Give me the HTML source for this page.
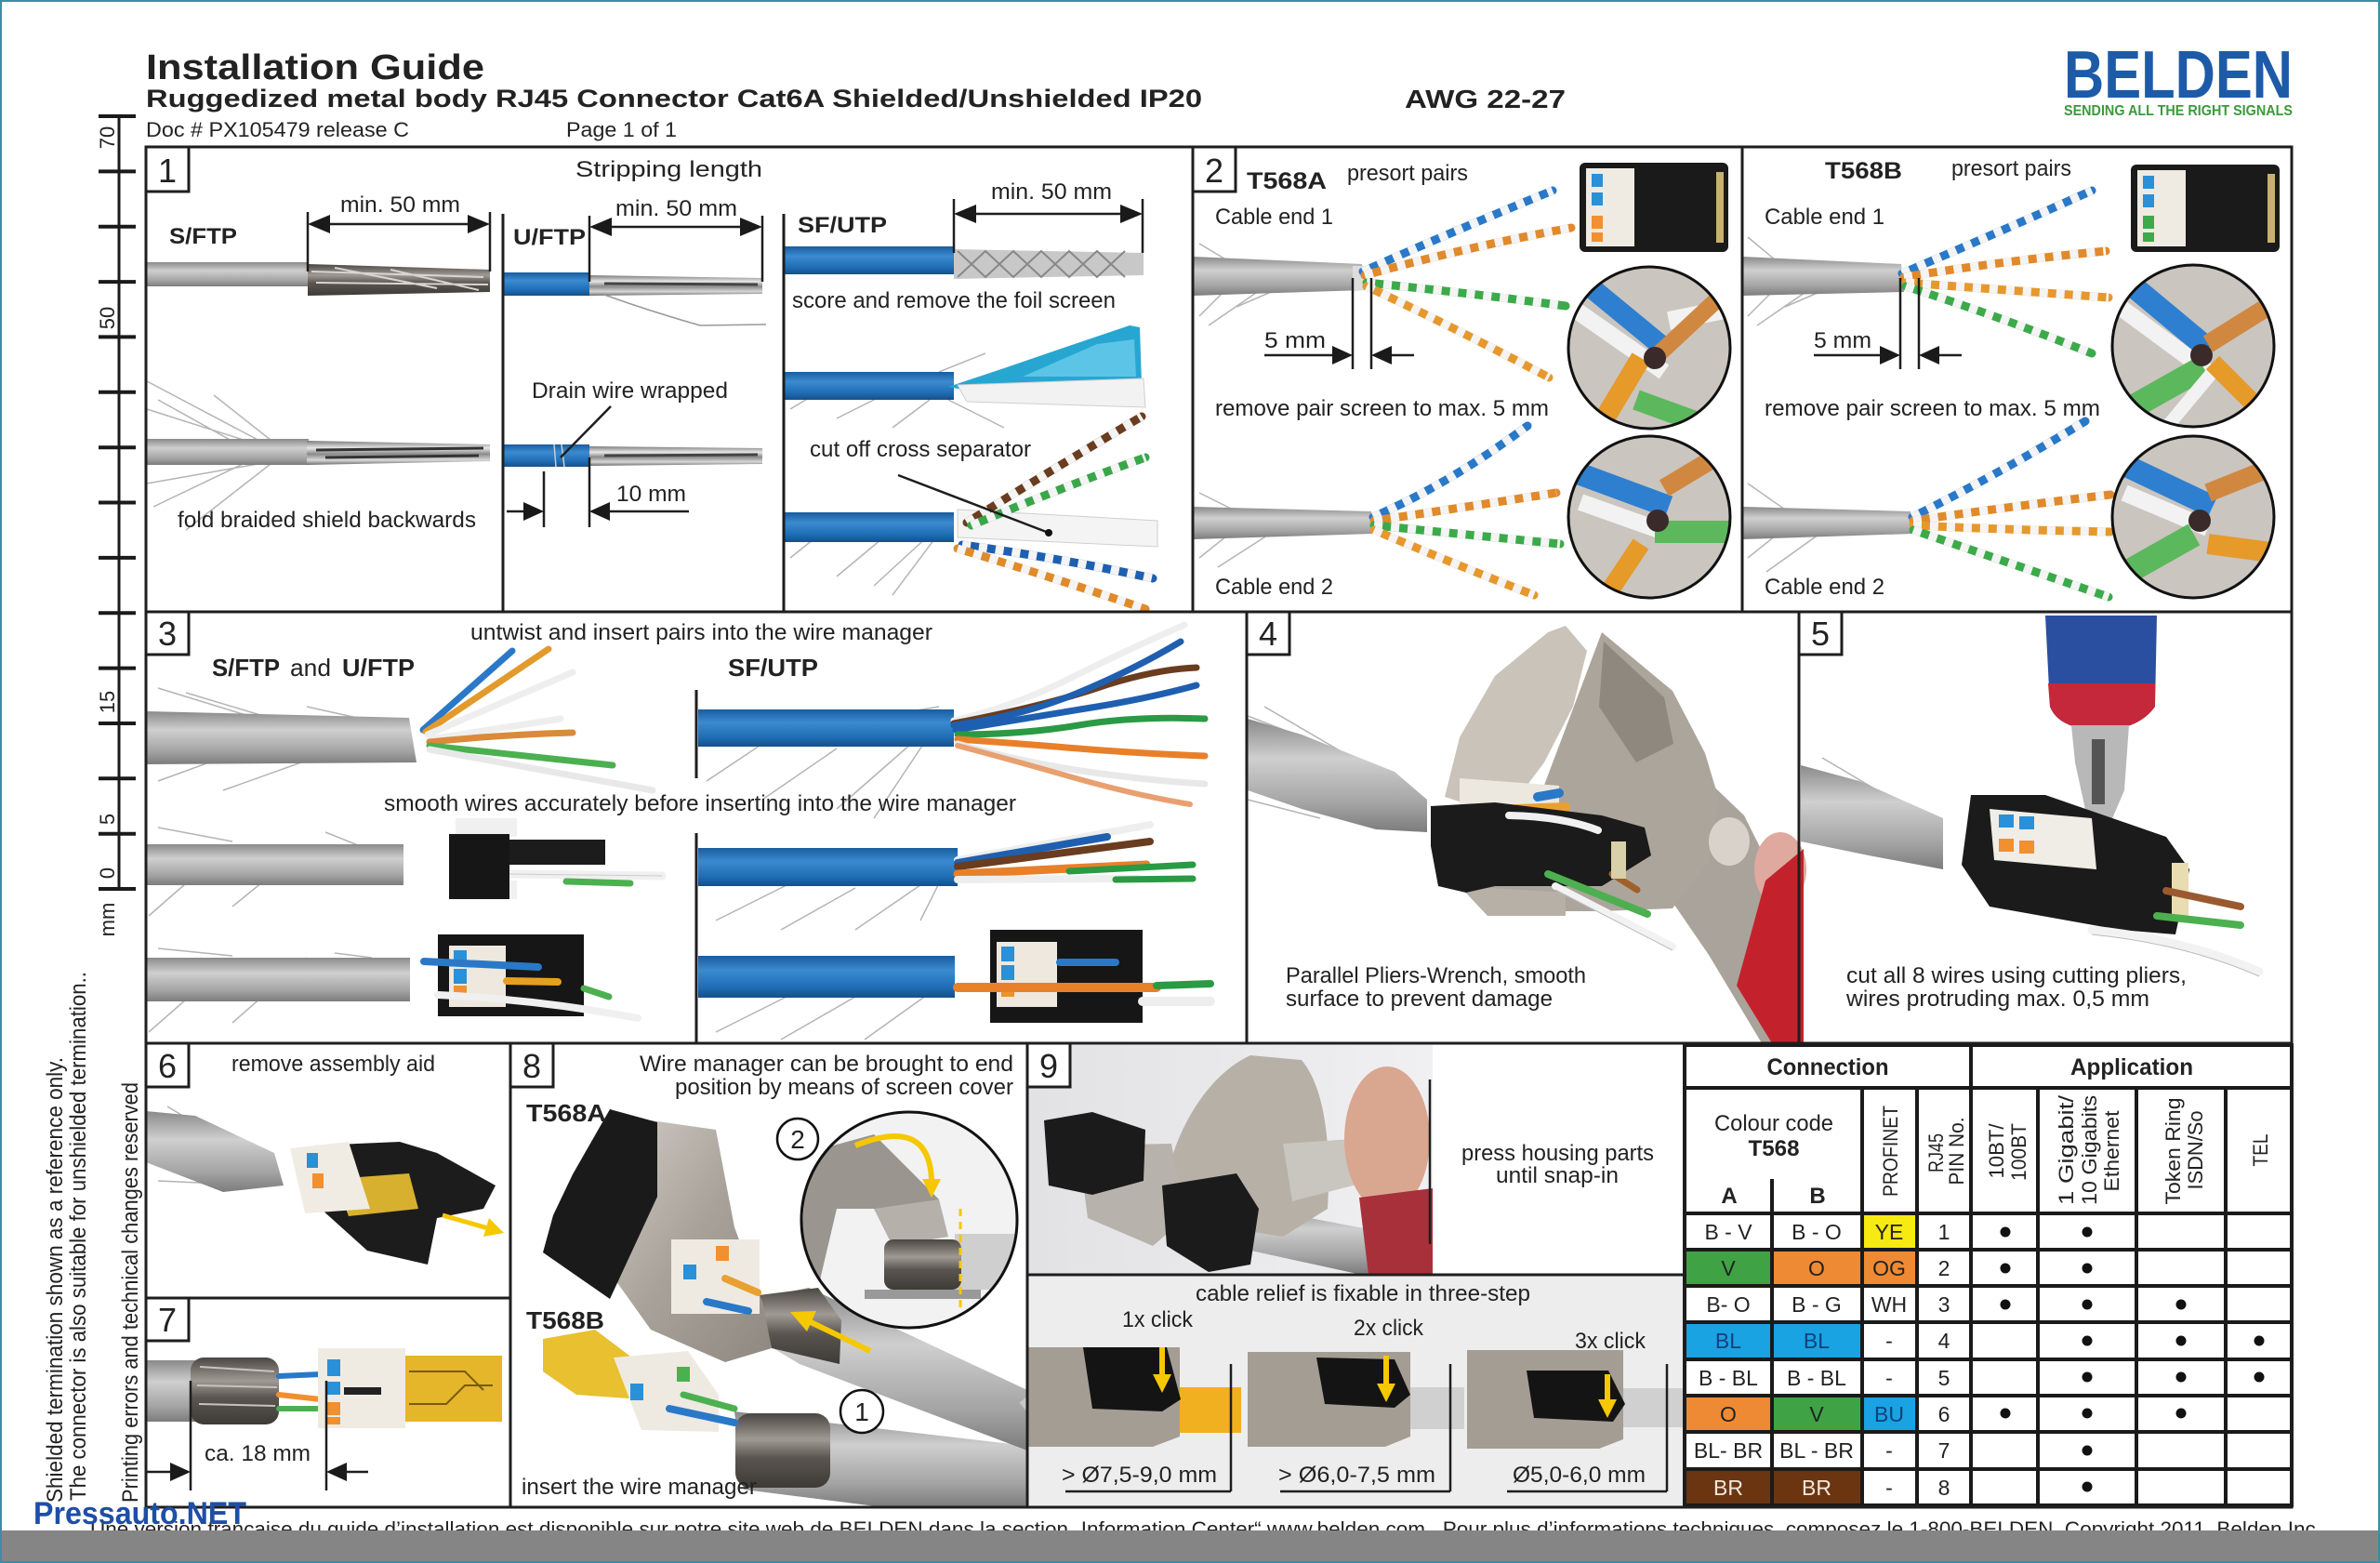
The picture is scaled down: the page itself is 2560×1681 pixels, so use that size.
<!DOCTYPE html>
<html><head><meta charset="utf-8"><style>
html,body{margin:0;padding:0;background:#fff}
svg{display:block}
text{font-family:"Liberation Sans",Arial,sans-serif;fill:#222;font-size:24px}
.b{font-weight:bold}
.w{fill:none;stroke-linecap:round}
.tw{fill:none;stroke:#f4f4f4;stroke-dasharray:9 9;stroke-linecap:butt}
.f{fill:none;stroke:#b4b4b4;stroke-width:1.5}
.ln{stroke:#1e1e1e;stroke-width:3}
.t2{stroke:#1e1e1e;stroke-width:2.5}
.nb{fill:#fff;stroke:#1e1e1e;stroke-width:3}
.num{font-size:36px;text-anchor:middle}
.c{text-anchor:middle}
.tg{stroke:#1a1a1a;stroke-width:4}
</style></head><body>
<svg width="2560" height="1681" viewBox="0 0 2560 1681" xmlns="http://www.w3.org/2000/svg">
<defs>
<linearGradient id="gc" x1="0" y1="0" x2="0" y2="1"><stop offset="0" stop-color="#8a8a8a"/><stop offset=".35" stop-color="#cfcfcf"/><stop offset=".75" stop-color="#a4a4a4"/><stop offset="1" stop-color="#7c7c7c"/></linearGradient>
<linearGradient id="bc" x1="0" y1="0" x2="0" y2="1"><stop offset="0" stop-color="#1a5c9e"/><stop offset=".35" stop-color="#3b8bd0"/><stop offset=".75" stop-color="#1f6db5"/><stop offset="1" stop-color="#174f8a"/></linearGradient>
<linearGradient id="sv" x1="0" y1="0" x2="0" y2="1"><stop offset="0" stop-color="#7c7c7c"/><stop offset=".3" stop-color="#e6e6e6"/><stop offset=".55" stop-color="#8a8a8a"/><stop offset=".8" stop-color="#d8d8d8"/><stop offset="1" stop-color="#6e6e6e"/></linearGradient>
<linearGradient id="br" x1="0" y1="0" x2="0" y2="1"><stop offset="0" stop-color="#4a4642"/><stop offset=".35" stop-color="#a09a94"/><stop offset=".6" stop-color="#5a5550"/><stop offset="1" stop-color="#3e3a36"/></linearGradient>
<linearGradient id="mt" x1="0" y1="0" x2="1" y2="1"><stop offset="0" stop-color="#d2cdc6"/><stop offset=".5" stop-color="#a8a29a"/><stop offset="1" stop-color="#8e8880"/></linearGradient>
<linearGradient id="bg9" x1="0" y1="0" x2="1" y2="0"><stop offset="0" stop-color="#e2e2e4"/><stop offset="1" stop-color="#f0f0f2"/></linearGradient>
<clipPath id="k1"><circle cx="1774" cy="374" r="87"/></clipPath>
<clipPath id="k2"><circle cx="1774" cy="556" r="87"/></clipPath>
<clipPath id="k3"><circle cx="2359" cy="372" r="87"/></clipPath>
<clipPath id="k4"><circle cx="2359" cy="556" r="87"/></clipPath>
<clipPath id="k8"><circle cx="978" cy="1312" r="116"/></clipPath>
</defs>
<rect width="2560" height="1681" fill="#fff"/>

<!-- ===== Header ===== -->
<text x="157" y="85" class="b" font-size="38" textLength="364" lengthAdjust="spacingAndGlyphs" style="font-size:38px">Installation Guide</text>
<text x="157" y="115" class="b" style="font-size:27px" textLength="1136" lengthAdjust="spacingAndGlyphs">Ruggedized metal body RJ45 Connector Cat6A Shielded/Unshielded IP20</text>
<text x="1511" y="116" class="b" style="font-size:28px" textLength="173" lengthAdjust="spacingAndGlyphs">AWG 22-27</text>
<text x="157" y="147" style="font-size:22px" textLength="283" lengthAdjust="spacingAndGlyphs">Doc # PX105479 release C</text>
<text x="609" y="147" style="font-size:22px" textLength="119" lengthAdjust="spacingAndGlyphs">Page 1 of 1</text>
<text x="2220" y="105" class="b" style="font-size:72px;fill:#1d5ba8" textLength="246" lengthAdjust="spacingAndGlyphs">BELDEN</text>
<text x="2220" y="124" class="b" style="font-size:16px;fill:#3a9a3a" textLength="246" lengthAdjust="spacingAndGlyphs">SENDING ALL THE RIGHT SIGNALS</text>

<!-- ===== Ruler ===== -->
<g class="tg">
<line x1="128" y1="124" x2="128" y2="957" stroke-width="3"/>
<line x1="106" y1="125" x2="146" y2="125"/><line x1="106" y1="184.4" x2="146" y2="184.4"/><line x1="106" y1="243.7" x2="146" y2="243.7"/><line x1="106" y1="303.1" x2="146" y2="303.1"/><line x1="106" y1="362.4" x2="146" y2="362.4"/><line x1="106" y1="421.8" x2="146" y2="421.8"/><line x1="106" y1="481.2" x2="146" y2="481.2"/><line x1="106" y1="540.5" x2="146" y2="540.5"/><line x1="106" y1="599.9" x2="146" y2="599.9"/><line x1="106" y1="659.2" x2="146" y2="659.2"/><line x1="106" y1="718.6" x2="146" y2="718.6"/><line x1="106" y1="778" x2="146" y2="778"/><line x1="106" y1="837.3" x2="146" y2="837.3"/><line x1="106" y1="896.7" x2="146" y2="896.7"/><line x1="106" y1="956" x2="146" y2="956"/>
</g>
<g style="font-size:22px">
<text transform="translate(123,148) rotate(-90)" class="c" style="font-size:22px">70</text>
<text transform="translate(123,342) rotate(-90)" class="c" style="font-size:22px">50</text>
<text transform="translate(123,755) rotate(-90)" class="c" style="font-size:22px">15</text>
<text transform="translate(123,881) rotate(-90)" class="c" style="font-size:22px">5</text>
<text transform="translate(123,939) rotate(-90)" class="c" style="font-size:22px">0</text>
<text transform="translate(123,989) rotate(-90)" class="c" style="font-size:22px">mm</text>
</g>

<!-- left vertical notes -->
<text transform="translate(67,1616) rotate(-90)" style="font-size:24px" textLength="479" lengthAdjust="spacingAndGlyphs">Shielded termination shown as a reference only.</text>
<text transform="translate(92,1614) rotate(-90)" style="font-size:24px" textLength="569" lengthAdjust="spacingAndGlyphs">The connector is also suitable for  unshielded termination..</text>
<text transform="translate(148,1616) rotate(-90)" style="font-size:24px" textLength="452" lengthAdjust="spacingAndGlyphs">Printing errors and technical changes reserved</text>

<!-- ===== Panel 1 photos ===== -->
<!-- S/FTP cable 1 -->
<rect x="158" y="282" width="174" height="26" fill="url(#gc)"/>
<polygon points="331,284 527,290 527,314 331,318" fill="url(#br)"/>
<path d="M335,292 L520,298 M340,304 L525,306 M360,288 L470,310 M420,290 L515,312" stroke="#d8d4d0" stroke-width="2" fill="none"/>
<!-- S/FTP cable 2 -->
<path class="f" d="M300,485 L158,410 M290,482 L158,440 M280,490 L165,545 M300,492 L200,570 M260,480 L170,430 M310,488 L230,425 M300,495 L158,520"/>
<rect x="158" y="472" width="174" height="28" fill="url(#gc)"/>
<polygon points="330,474 527,478 527,496 330,500" fill="url(#sv)"/>
<path d="M340,484 L520,482 M350,492 L515,490" stroke="#333" stroke-width="3" fill="none"/>
<!-- U/FTP -->
<rect x="541" y="293" width="93" height="25" fill="url(#bc)"/>
<polygon points="634,296 820,299 820,316 634,318" fill="url(#sv)"/>
<path d="M650,305 L815,306" stroke="#444" stroke-width="3" fill="none"/>
<path d="M650,317 Q700,335 753,350 L824,349" stroke="#999" stroke-width="1.5" fill="none"/>
<rect x="541" y="478" width="93" height="24" fill="url(#bc)"/>
<polygon points="634,480 820,482 820,499 634,501" fill="url(#sv)"/>
<path d="M650,490 L815,489" stroke="#444" stroke-width="3" fill="none"/>
<path d="M596,478 L598,502 M604,478 L607,502" stroke="#ccc" stroke-width="1.5"/>
<line x1="657" y1="437" x2="603" y2="492" class="t2"/>
<!-- SF/UTP -->
<rect x="843" y="265" width="183" height="30" fill="url(#bc)"/>
<polygon points="1026,268 1230,272 1230,296 1026,300" fill="#c8c8c8"/>
<path d="M1030,270 L1060,298 L1090,270 L1120,298 L1150,270 L1180,298 L1210,270 M1030,298 L1060,270 L1090,298 L1120,270 L1150,298 L1180,270 L1210,298" stroke="#888" stroke-width="2" fill="none"/>
<path class="f" d="M900,410 L850,440 M960,420 L900,450 M1000,430 L960,460 M1010,400 L1060,380 M1020,430 L1080,460"/>
<rect x="843" y="400" width="183" height="30" fill="url(#bc)"/>
<polygon points="1020,416 1080,396 1150,372 1215,350 1226,352 1228,412 1140,418 1060,424" fill="#27a6d2"/>
<polygon points="1100,405 1180,370 1220,365 1222,405" fill="#5cc4e6"/>
<polygon points="1030,414 1230,407 1232,438 1040,432" fill="#f2f2f2" stroke="#cfcfcf"/>
<path class="f" d="M900,560 L850,600 M960,570 L900,620 M1000,575 L940,630 M1020,560 L960,640"/>
<rect x="843" y="551" width="183" height="32" fill="url(#bc)"/>
<polygon points="1030,548 1245,560 1245,588 1030,578" fill="#f4f4f4" stroke="#cfcfcf"/>
<path class="w" d="M1040,562 Q1140,500 1228,448" stroke="#6a3c20" stroke-width="9"/><path class="tw" d="M1040,562 Q1140,500 1228,448" stroke-width="9"/>
<path class="w" d="M1045,565 Q1140,525 1232,492" stroke="#3aa64a" stroke-width="9"/><path class="tw" d="M1045,565 Q1140,525 1232,492" stroke-width="9"/>
<path class="w" d="M1035,586 Q1140,600 1240,622" stroke="#1f5fb0" stroke-width="9"/><path class="tw" d="M1035,586 Q1140,600 1240,622" stroke-width="9"/>
<path class="w" d="M1030,590 Q1130,620 1232,655" stroke="#e08a2a" stroke-width="9"/><path class="tw" d="M1030,590 Q1130,620 1232,655" stroke-width="9"/>
<line x1="966" y1="511" x2="1128" y2="573" class="t2"/><circle cx="1128" cy="573" r="4" fill="#111"/>

<!-- Panel 1 dimensions -->
<g class="t2">
<line x1="331" y1="228" x2="331" y2="292"/><line x1="527" y1="228" x2="527" y2="292"/><line x1="345" y1="241" x2="513" y2="241"/>
<line x1="634" y1="232" x2="634" y2="303"/><line x1="820" y1="232" x2="820" y2="303"/><line x1="648" y1="244" x2="806" y2="244"/>
<line x1="1026" y1="214" x2="1026" y2="272"/><line x1="1229" y1="214" x2="1229" y2="272"/><line x1="1040" y1="230" x2="1215" y2="230"/>
<line x1="585" y1="507" x2="585" y2="567"/><line x1="634" y1="492" x2="634" y2="567"/><line x1="545" y1="550" x2="570" y2="550"/><line x1="648" y1="550" x2="741" y2="550"/>
</g>
<g fill="#1a1a1a">
<polygon points="331,241 355,231 355,251"/><polygon points="527,241 503,231 503,251"/>
<polygon points="634,244 658,234 658,254"/><polygon points="820,244 796,234 796,254"/>
<polygon points="1026,230 1050,220 1050,240"/><polygon points="1229,230 1205,220 1205,240"/>
<polygon points="585,550 563,540 563,560"/><polygon points="634,550 656,540 656,560"/>
</g>

<!-- ===== Panel 2A ===== -->
<path class="f" d="M1340,290 L1290,340 M1380,295 L1300,350 M1320,280 L1290,262 M1400,300 L1330,330"/>
<polygon points="1283,276 1465,284 1468,312 1283,318" fill="url(#gc)"/>
<rect x="1455" y="286" width="12" height="26" fill="#ddd"/>
<path class="w" d="M1466,292 Q1560,250 1670,205" stroke="#2a78c8" stroke-width="9"/><path class="tw" d="M1466,292 Q1560,250 1670,205" stroke-width="9"/>
<path class="w" d="M1468,296 Q1580,265 1690,245" stroke="#e08a2a" stroke-width="9"/><path class="tw" d="M1468,296 Q1580,265 1690,245" stroke-width="9"/>
<path class="w" d="M1470,304 Q1580,315 1684,329" stroke="#3caa4a" stroke-width="9"/><path class="tw" d="M1470,304 Q1580,315 1684,329" stroke-width="9"/>
<path class="w" d="M1470,308 Q1560,350 1666,406" stroke="#e6982e" stroke-width="9"/><path class="tw" d="M1470,308 Q1560,350 1666,406" stroke-width="9"/>
<path class="f" d="M1340,560 L1290,600 M1380,565 L1310,610 M1330,550 L1290,530"/>
<polygon points="1283,545 1475,550 1477,574 1283,580" fill="url(#gc)"/>
<path class="w" d="M1477,556 Q1560,520 1643,458" stroke="#2a78c8" stroke-width="9"/><path class="tw" d="M1477,556 Q1560,520 1643,458" stroke-width="9"/>
<path class="w" d="M1478,560 Q1580,545 1674,530" stroke="#e08a2a" stroke-width="9"/><path class="tw" d="M1478,560 Q1580,545 1674,530" stroke-width="9"/>
<path class="w" d="M1478,565 Q1580,575 1678,585" stroke="#3caa4a" stroke-width="9"/><path class="tw" d="M1478,565 Q1580,575 1678,585" stroke-width="9"/>
<path class="w" d="M1478,570 Q1560,605 1650,640" stroke="#e6982e" stroke-width="9"/><path class="tw" d="M1478,570 Q1560,605 1650,640" stroke-width="9"/>
<!-- connector 2A -->
<rect x="1699" y="175" width="160" height="96" rx="6" fill="#1a1a1a"/>
<rect x="1706" y="181" width="52" height="84" fill="#efeae2"/>
<rect x="1712" y="187" width="12" height="14" fill="#2a90d8"/><rect x="1712" y="207" width="12" height="14" fill="#2a90d8"/>
<rect x="1712" y="232" width="12" height="14" fill="#f09030"/><rect x="1712" y="250" width="12" height="10" fill="#f09030"/>
<rect x="1846" y="185" width="8" height="76" fill="#c8b070"/>
<!-- circles 2A -->
<g clip-path="url(#k1)"><rect x="1680" y="280" width="190" height="190" fill="#cac5bf"/>
<path d="M1700,300 L1785,370" stroke="#2e7fd0" stroke-width="22"/><path d="M1690,330 L1790,400" stroke="#f2f2f2" stroke-width="18"/>
<path d="M1720,460 L1765,385" stroke="#e59a2a" stroke-width="22"/><path d="M1760,430 L1870,470" stroke="#5cb85c" stroke-width="22"/>
<path d="M1795,345 L1870,330" stroke="#f2f2f2" stroke-width="20"/><path d="M1785,380 L1860,310" stroke="#d08840" stroke-width="18"/><circle cx="1780" cy="385" r="12" fill="#3a2a2a"/></g>
<circle cx="1774" cy="374" r="87" fill="none" stroke="#111" stroke-width="3"/>
<g clip-path="url(#k2)"><rect x="1680" y="460" width="190" height="190" fill="#cac5bf"/>
<path d="M1700,510 L1795,545" stroke="#2e7fd0" stroke-width="24"/><path d="M1700,540 L1790,572" stroke="#f2f2f2" stroke-width="18"/>
<path d="M1780,572 L1870,572" stroke="#5cb85c" stroke-width="24"/><path d="M1725,645 L1765,585" stroke="#e59a2a" stroke-width="20"/>
<path d="M1790,525 L1865,480" stroke="#d08840" stroke-width="20"/><circle cx="1783" cy="560" r="12" fill="#3a2a2a"/></g>
<circle cx="1774" cy="556" r="87" fill="none" stroke="#111" stroke-width="3"/>

<!-- ===== Panel 2B ===== -->
<path class="f" d="M1930,290 L1880,340 M1970,295 L1890,350 M1910,280 L1880,255 M1990,300 L1920,330"/>
<polygon points="1874,276 2045,284 2048,314 1874,318" fill="url(#gc)"/>
<path class="w" d="M2046,294 Q2150,250 2250,205" stroke="#2a78c8" stroke-width="9"/><path class="tw" d="M2046,294 Q2150,250 2250,205" stroke-width="9"/>
<path class="w" d="M2048,298 Q2160,280 2265,270" stroke="#e08a2a" stroke-width="9"/><path class="tw" d="M2048,298 Q2160,280 2265,270" stroke-width="9"/>
<path class="w" d="M2050,304 Q2160,312 2268,320" stroke="#e6982e" stroke-width="9"/><path class="tw" d="M2050,304 Q2160,312 2268,320" stroke-width="9"/>
<path class="w" d="M2050,308 Q2150,340 2250,380" stroke="#3caa4a" stroke-width="9"/><path class="tw" d="M2050,308 Q2150,340 2250,380" stroke-width="9"/>
<path class="f" d="M1930,560 L1880,600 M1970,565 L1900,615 M1920,548 L1880,520"/>
<polygon points="1874,545 2055,550 2057,574 1874,580" fill="url(#gc)"/>
<path class="w" d="M2057,556 Q2150,510 2243,453" stroke="#2a78c8" stroke-width="9"/><path class="tw" d="M2057,556 Q2150,510 2243,453" stroke-width="9"/>
<path class="w" d="M2058,560 Q2160,545 2270,532" stroke="#e08a2a" stroke-width="9"/><path class="tw" d="M2058,560 Q2160,545 2270,532" stroke-width="9"/>
<path class="w" d="M2058,565 Q2160,570 2270,572" stroke="#e6982e" stroke-width="9"/><path class="tw" d="M2058,565 Q2160,570 2270,572" stroke-width="9"/>
<path class="w" d="M2058,570 Q2160,605 2268,642" stroke="#3caa4a" stroke-width="9"/><path class="tw" d="M2058,570 Q2160,605 2268,642" stroke-width="9"/>
<rect x="2292" y="177" width="160" height="94" rx="6" fill="#1a1a1a"/>
<rect x="2299" y="183" width="52" height="82" fill="#efeae2"/>
<rect x="2305" y="189" width="12" height="14" fill="#2a90d8"/><rect x="2305" y="209" width="12" height="14" fill="#2a90d8"/>
<rect x="2305" y="232" width="12" height="14" fill="#3caa4a"/><rect x="2305" y="250" width="12" height="10" fill="#3caa4a"/>
<rect x="2439" y="187" width="8" height="74" fill="#c8b070"/>
<g clip-path="url(#k3)"><rect x="2265" y="280" width="190" height="190" fill="#cac5bf"/>
<path d="M2285,300 L2375,375" stroke="#2e7fd0" stroke-width="24"/><path d="M2280,330 L2375,400" stroke="#f2f2f2" stroke-width="18"/>
<path d="M2290,440 L2370,395" stroke="#5cb85c" stroke-width="26"/><path d="M2330,460 L2380,400" stroke="#f2f2f2" stroke-width="14"/>
<path d="M2375,370 L2455,320" stroke="#d08840" stroke-width="20"/><path d="M2380,390 L2440,450" stroke="#e59a2a" stroke-width="20"/><circle cx="2368" cy="382" r="12" fill="#3a2a2a"/></g>
<circle cx="2359" cy="372" r="87" fill="none" stroke="#111" stroke-width="3"/>
<g clip-path="url(#k4)"><rect x="2265" y="460" width="190" height="190" fill="#cac5bf"/>
<path d="M2285,500 L2380,545" stroke="#2e7fd0" stroke-width="24"/><path d="M2285,530 L2375,568" stroke="#f2f2f2" stroke-width="18"/>
<path d="M2280,620 L2360,575" stroke="#5cb85c" stroke-width="26"/><path d="M2375,585 L2450,595" stroke="#e59a2a" stroke-width="22"/>
<path d="M2375,530 L2450,500" stroke="#d08840" stroke-width="20"/><circle cx="2366" cy="560" r="12" fill="#3a2a2a"/></g>
<circle cx="2359" cy="556" r="87" fill="none" stroke="#111" stroke-width="3"/>

<!-- Panel 2 dims -->
<g class="t2">
<line x1="1455" y1="299" x2="1455" y2="397"/><line x1="1475" y1="299" x2="1475" y2="397"/><line x1="1360" y1="382" x2="1440" y2="382"/><line x1="1490" y1="382" x2="1521" y2="382"/>
<line x1="2044" y1="299" x2="2044" y2="397"/><line x1="2064" y1="299" x2="2064" y2="397"/><line x1="1951" y1="382" x2="2030" y2="382"/><line x1="2078" y1="382" x2="2110" y2="382"/>
</g>
<g fill="#1a1a1a">
<polygon points="1455,382 1433,372 1433,392"/><polygon points="1475,382 1497,372 1497,392"/>
<polygon points="2044,382 2022,372 2022,392"/><polygon points="2064,382 2086,372 2086,392"/>
</g>

<!-- ===== Panel 3 ===== -->
<!-- top left -->
<path class="f" d="M300,780 L170,740 M350,790 L200,745 M280,800 L170,840 M380,800 L240,850 M420,780 L330,760"/>
<polygon points="158,765 440,772 448,820 158,822" fill="url(#gc)"/>
<path class="w" d="M455,785 L551,700" stroke="#2a78c8" stroke-width="7"/>
<path class="w" d="M458,787 L590,698" stroke="#e39a2c" stroke-width="7"/>
<path class="w" d="M460,790 L616,723" stroke="#eeeeee" stroke-width="7"/>
<path class="w" d="M462,795 L603,773" stroke="#eeeeee" stroke-width="7"/>
<path class="w" d="M462,798 Q540,790 616,788" stroke="#d98a3a" stroke-width="7"/>
<path class="w" d="M462,802 L659,823" stroke="#4cb050" stroke-width="7"/>
<path class="w" d="M462,806 L702,850" stroke="#e8e8e8" stroke-width="7"/>
<!-- middle left -->
<path class="f" d="M250,905 L170,890 M330,910 L250,975 M200,950 L160,985 M400,915 L350,895"/>
<rect x="158" y="908" width="276" height="44" fill="url(#gc)"/>
<rect x="490" y="880" width="66" height="20" fill="#f0f0f0"/>
<rect x="490" y="947" width="66" height="20" fill="#f0f0f0"/>
<path class="w" d="M548,940 L712,942" stroke="#f0f0f0" stroke-width="9"/><path d="M548,940 L712,942" stroke="#ccc" stroke-width="1" fill="none"/>
<path class="w" d="M609,948 L678,950" stroke="#4cb050" stroke-width="7"/>
<rect x="483" y="897" width="65" height="70" fill="#161616"/>
<rect x="548" y="903" width="103" height="27" fill="#1c1c1c"/>
<!-- bottom left -->
<path class="f" d="M250,1028 L170,1020 M330,1030 L250,1100 M200,1075 L160,1110 M400,1030 L360,1025"/>
<rect x="158" y="1030" width="283" height="47" fill="url(#gc)"/>
<rect x="471" y="1005" width="157" height="88" fill="#161616"/>
<rect x="483" y="1017" width="61" height="66" fill="#eee8df"/>
<rect x="488" y="1022" width="14" height="16" fill="#2a90d8"/><rect x="488" y="1042" width="14" height="16" fill="#2a90d8"/>
<rect x="488" y="1060" width="14" height="14" fill="#f09030"/>
<path class="w" d="M456,1034 L579,1040" stroke="#2a78c8" stroke-width="8"/>
<path class="w" d="M545,1055 L600,1056" stroke="#e6a020" stroke-width="8"/>
<path class="w" d="M471,1070 Q580,1075 686,1095" stroke="#f0f0f0" stroke-width="8"/>
<path class="w" d="M628,1063 L655,1072" stroke="#4cb050" stroke-width="7"/>
<!-- top right -->
<path class="f" d="M820,800 L760,840 M900,805 L820,860 M980,800 L900,870 M1000,790 L940,880 M950,770 L1010,760"/>
<rect x="751" y="763" width="275" height="40" fill="url(#bc)"/>
<path class="w" d="M1026,775 Q1090,760 1150,730 T1274,672" stroke="#eeeeee" stroke-width="7"/>
<path class="w" d="M1026,778 Q1120,760 1180,740 T1287,718" stroke="#6a3c20" stroke-width="7"/>
<path class="w" d="M1026,780 Q1100,770 1160,745 T1270,690" stroke="#1f5fb0" stroke-width="7"/>
<path class="w" d="M1028,785 Q1120,770 1180,760 T1287,737" stroke="#1f5fb0" stroke-width="7"/>
<path class="w" d="M1030,790 Q1100,790 1160,780 T1296,773" stroke="#2a9a44" stroke-width="7"/>
<path class="w" d="M1030,795 Q1100,800 1160,805 T1296,813" stroke="#e8802a" stroke-width="7"/>
<path class="w" d="M1030,800 Q1100,820 1170,830 T1296,843" stroke="#e8e8e8" stroke-width="7"/>
<path class="w" d="M1030,802 Q1080,815 1150,835 T1280,865" stroke="#e8a070" stroke-width="6"/>
<!-- middle right -->
<path class="f" d="M850,950 L770,990 M920,955 L840,1000 M1000,945 L920,1000 M1020,930 L990,990"/>
<rect x="751" y="912" width="279" height="41" fill="url(#bc)"/>
<path class="w" d="M1030,925 L1237,887" stroke="#eeeeee" stroke-width="8"/>
<path class="w" d="M1030,928 L1191,900" stroke="#1f5fb0" stroke-width="8"/>
<path class="w" d="M1030,932 L1237,905" stroke="#6a3c20" stroke-width="8"/>
<path class="w" d="M1030,940 Q1130,935 1233,930" stroke="#e8802a" stroke-width="9"/>
<path class="w" d="M1150,937 L1283,930" stroke="#2a9a44" stroke-width="7"/>
<path class="w" d="M1030,946 L1225,945" stroke="#eeeeee" stroke-width="8"/>
<path class="w" d="M1200,946 L1283,945" stroke="#2a9a44" stroke-width="7"/>
<!-- bottom right -->
<path class="f" d="M850,1070 L770,1110 M920,1072 L840,1118 M1000,1068 L930,1118"/>
<rect x="751" y="1028" width="276" height="45" fill="url(#bc)"/>
<rect x="1065" y="1000" width="164" height="100" fill="#161616"/>
<rect x="1072" y="1013" width="65" height="70" fill="#eee8df"/>
<rect x="1077" y="1018" width="14" height="16" fill="#2a90d8"/><rect x="1077" y="1038" width="14" height="16" fill="#2a90d8"/>
<rect x="1077" y="1058" width="14" height="14" fill="#f09030"/>
<path class="w" d="M1030,1062 L1244,1062" stroke="#e8802a" stroke-width="10"/>
<path class="w" d="M1244,1060 L1302,1058" stroke="#2a9a44" stroke-width="8"/>
<path class="w" d="M1229,1077 L1302,1077" stroke="#eeeeee" stroke-width="10"/>
<path class="w" d="M1140,1035 L1200,1035" stroke="#2a78c8" stroke-width="8"/>

<!-- ===== Panel 4 ===== -->
<path class="f" d="M1342,770 L1420,800 M1342,800 L1450,820 M1345,840 L1460,870 M1360,760 L1480,830 M1342,860 L1420,880"/>
<polygon points="1342,773 1400,790 1500,830 1535,860 1535,895 1480,892 1400,870 1342,850" fill="url(#gc)"/>
<polygon points="1780,847 1830,833 1876,877 1914,953 1940,993 1940,1122 1895,1122 1838,1027 1792,960" fill="#a9a39b"/>
<path d="M1723,680 L1799,743 L1834,810 L1849,860 L1838,927 L1799,977 L1723,980 L1646,980 L1589,967 L1570,953 L1640,900 Z" fill="#aca59c"/>
<polygon points="1554,857 1570,793 1608,727 1665,680 1684,673 1707,700 1692,760 1661,820 1631,860 1585,867" fill="#c9c3ba"/>
<polygon points="1725,690 1790,750 1800,800 1760,820 1720,760" fill="#8f887f"/>
<ellipse cx="1860" cy="905" rx="22" ry="26" fill="#d8d2ca"/>
<polygon points="1570,953 1684,960 1684,985 1600,985" fill="#b7b0a7"/>
<ellipse cx="1915" cy="935" rx="28" ry="40" fill="#dfa9a0"/>
<polygon points="1899,947 1940,913 1940,1122 1906,1122 1868,1060" fill="#c3222c"/>
<polygon points="1570,837 1677,845 1677,887 1570,880" fill="#ece8e0"/>
<path class="w" d="M1654,857 L1677,853" stroke="#2a78c8" stroke-width="10"/>
<path class="w" d="M1631,870 L1684,868" stroke="#e8a030" stroke-width="10"/>
<polygon points="1539,867 1608,863 1723,877 1769,890 1776,920 1723,953 1608,953 1577,960 1547,953 1539,910" fill="#1b1b1b"/>
<path class="w" d="M1623,877 Q1680,878 1719,893" stroke="#f0f0f0" stroke-width="8"/>
<path class="w" d="M1665,940 L1772,983" stroke="#4cb050" stroke-width="8"/>
<path class="w" d="M1673,953 L1799,1018" stroke="#f2f2f2" stroke-width="8"/><path d="M1673,957 L1799,1022" stroke="#bbb" stroke-width="1" fill="none"/>
<path class="w" d="M1734,940 L1761,957" stroke="#a0602a" stroke-width="7"/>
<rect x="1733" y="905" width="16" height="40" fill="#d8d0a8"/>

<!-- ===== Panel 5 ===== -->
<path class="f" d="M1937,830 L2000,860 M1937,860 L2040,890 M1945,900 L2050,925 M1960,815 L2070,880"/>
<polygon points="1937,823 2000,840 2090,880 2090,935 2010,920 1937,905" fill="url(#gc)"/>
<path d="M2200,662 L2320,662 L2318,760 Q2300,785 2260,785 Q2215,785 2205,760 Z" fill="#2a4fa0"/>
<path d="M2203,735 L2318,735 L2318,760 Q2300,785 2260,785 Q2215,785 2205,760 Z" fill="#c4283a"/>
<polygon points="2228,780 2290,780 2285,850 2270,885 2245,880 2232,820" fill="#b8b8b8"/>
<rect x="2250" y="795" width="14" height="70" fill="#555"/>
<polygon points="2120,855 2200,855 2330,900 2355,935 2340,1005 2280,1000 2140,975 2110,930" fill="#1b1b1b"/>
<polygon points="2140,870 2250,880 2255,935 2145,925" fill="#f0ede6"/>
<rect x="2150" y="876" width="16" height="14" fill="#2a90d8"/><rect x="2172" y="878" width="16" height="14" fill="#2a90d8"/>
<rect x="2150" y="902" width="16" height="14" fill="#f09030"/><rect x="2172" y="904" width="16" height="14" fill="#f09030"/>
<rect x="2336" y="928" width="18" height="62" fill="#e8dcb0"/>
<path class="w" d="M2330,958 L2410,975" stroke="#9a5a30" stroke-width="8"/>
<path class="w" d="M2320,985 L2410,995" stroke="#4cb050" stroke-width="8"/>
<path class="w" d="M2250,1000 Q2350,1010 2430,1045" stroke="#f2f2f2" stroke-width="9"/><path d="M2250,1005 Q2350,1015 2430,1050" stroke="#bbb" stroke-width="1" fill="none"/>

<!-- ===== Panel 6 ===== -->
<path class="f" d="M160,1200 L240,1240 M165,1230 L260,1260 M170,1270 L280,1275 M180,1190 L280,1250"/>
<polygon points="157,1195 210,1200 295,1240 305,1275 240,1282 157,1250" fill="url(#gc)"/>
<polygon points="339,1232 430,1228 470,1240 533,1275 520,1300 470,1310 460,1360 395,1345 345,1300" fill="#1c1c1c"/>
<polygon points="360,1268 440,1262 450,1300 375,1308" fill="#d8b030"/>
<polygon points="312,1235 375,1228 398,1300 328,1305" fill="#f0ece4"/>
<rect x="330" y="1240" width="12" height="16" fill="#2a90d8"/><rect x="336" y="1262" width="12" height="16" fill="#f09030"/>
<line x1="476" y1="1307" x2="525" y2="1321" stroke="#f5c800" stroke-width="5"/>
<polygon points="542,1326 520,1330 526,1310" fill="#f5c800"/>

<!-- ===== Panel 7 ===== -->
<rect x="157" y="1463" width="60" height="66" fill="url(#gc)"/>
<rect x="205" y="1460" width="95" height="72" rx="14" fill="url(#br)"/>
<path d="M215,1470 L295,1475 M212,1490 L298,1492 M214,1510 L296,1512" stroke="#c8c2bb" stroke-width="2" fill="none"/>
<path class="w" d="M300,1480 L345,1478" stroke="#2a78c8" stroke-width="6"/><path class="w" d="M300,1500 L345,1505" stroke="#f09030" stroke-width="6"/><path class="w" d="M300,1515 L345,1515" stroke="#4cb050" stroke-width="6"/>
<rect x="432" y="1458" width="108" height="71" fill="#e5b52a"/>
<path d="M440,1475 L500,1475 L520,1495 M440,1510 L480,1510 L500,1490 L530,1490" stroke="#7a5a10" stroke-width="2" fill="none"/>
<rect x="342" y="1450" width="94" height="86" fill="#efebe3"/>
<rect x="352" y="1462" width="14" height="18" fill="#2a90d8"/><rect x="352" y="1486" width="14" height="14" fill="#2a90d8"/>
<rect x="352" y="1508" width="14" height="14" fill="#f09030"/><rect x="352" y="1524" width="14" height="8" fill="#f09030"/>
<rect x="370" y="1492" width="40" height="8" fill="#222"/>
<g class="t2"><line x1="205" y1="1485" x2="205" y2="1603"/><line x1="351" y1="1485" x2="351" y2="1603"/><line x1="157" y1="1583" x2="190" y2="1583"/><line x1="365" y1="1583" x2="396" y2="1583"/></g>
<polygon points="205,1583 183,1573 183,1593" fill="#1a1a1a"/><polygon points="351,1583 373,1573 373,1593" fill="#1a1a1a"/>

<!-- ===== Panel 8 ===== -->
<polygon points="790,1518 890,1530 1105,1555 1105,1621 950,1621 800,1602" fill="url(#gc)"/>
<rect x="791" y="1520" width="102" height="80" rx="16" fill="url(#br)"/>
<polygon points="820,1395 870,1385 1105,1495 1105,1560 860,1467 815,1440" fill="url(#gc)"/>
<polygon points="816,1393 880,1385 905,1420 903,1467 830,1450" fill="url(#br)"/>
<polygon points="700,1205 770,1215 790,1320 820,1400 830,1450 780,1465 700,1430 650,1360 650,1300" fill="url(#mt)"/>
<polygon points="656,1193 707,1207 707,1287 656,1397 584,1347 595,1307 616,1263" fill="#1a1a1a"/>
<rect x="722" y="1333" width="95" height="80" fill="#eeeae2"/>
<rect x="735" y="1360" width="14" height="16" fill="#2a90d8"/><rect x="770" y="1340" width="14" height="16" fill="#f09030"/>
<path class="w" d="M760,1400 L805,1410" stroke="#2a78c8" stroke-width="8"/><path class="w" d="M780,1375 L815,1390" stroke="#e8a030" stroke-width="8"/>
<polygon points="584,1440 640,1430 693,1470 690,1505 620,1500 584,1475" fill="#e8c030"/>
<polygon points="660,1460 740,1453 773,1500 773,1540 690,1538" fill="#eeeae2"/>
<rect x="678" y="1488" width="14" height="18" fill="#2a90d8"/><rect x="728" y="1470" width="14" height="16" fill="#4cb050"/>
<path class="w" d="M720,1515 L790,1530" stroke="#2a78c8" stroke-width="8"/><path class="w" d="M735,1500 L790,1515" stroke="#4cb050" stroke-width="7"/>
<line x1="936" y1="1453" x2="870" y2="1421" stroke="#f5c800" stroke-width="6"/>
<polygon points="850,1411 878,1410 868,1432" fill="#f5c800"/>
<g clip-path="url(#k8)"><rect x="860" y="1194" width="240" height="240" fill="#f2f2f2"/>
<polygon points="867,1240 940,1220 1010,1290 1013,1330 960,1335 940,1300 900,1300 880,1385 860,1390" fill="#9a958f"/>
<polygon points="940,1300 1010,1290 1020,1330 960,1340" fill="#b5b0aa"/>
<rect x="1027" y="1327" width="75" height="60" fill="#cfcfcf"/>
<rect x="951" y="1333" width="83" height="54" rx="10" fill="url(#br)"/>
<rect x="930" y="1387" width="125" height="10" fill="#999"/>
<path d="M920,1232 Q1000,1200 1002,1270" stroke="#f5c800" stroke-width="6" fill="none"/>
<polygon points="992,1268 1012,1268 1002,1288" fill="#f5c800"/>
<line x1="1033" y1="1300" x2="1033" y2="1407" stroke="#f5c800" stroke-width="3" stroke-dasharray="8 6"/></g>
<circle cx="978" cy="1312" r="116" fill="none" stroke="#111" stroke-width="3"/>
<circle cx="858" cy="1225" r="22" fill="#fff" stroke="#111" stroke-width="2.5"/><text x="858" y="1235" class="c" style="font-size:28px">2</text>
<circle cx="927" cy="1518" r="23" fill="#fff" stroke="#111" stroke-width="2.5"/><text x="927" y="1528" class="c" style="font-size:28px">1</text>

<!-- ===== Panel 9 ===== -->
<rect x="1106" y="1124" width="435" height="247" fill="url(#bg9)"/>
<polygon points="1290,1300 1330,1295 1541,1335 1541,1370 1460,1370 1300,1335" fill="url(#gc)"/>
<path d="M1250,1310 C1250,1240 1290,1160 1345,1135 L1400,1140 C1425,1170 1432,1230 1428,1300 L1380,1330 Z" fill="#b7b0a6"/>
<polygon points="1380,1230 1500,1222 1505,1262 1390,1292" fill="#c9c5bf"/>
<ellipse cx="1492" cy="1225" rx="46" ry="78" fill="#d9a690"/>
<polygon points="1462,1288 1541,1278 1541,1371 1472,1371" fill="#a8303a"/>
<polygon points="1160,1232 1260,1230 1275,1310 1240,1340 1170,1310" fill="#b7b2ab"/>
<polygon points="1123,1205 1175,1196 1232,1215 1230,1270 1175,1285 1128,1275" fill="#1b1b1b"/>
<polygon points="1250,1275 1330,1262 1354,1300 1345,1360 1300,1368 1255,1340" fill="#1b1b1b"/>
<line x1="1538" y1="1161" x2="1538" y2="1338" class="t2"/>
<rect x="1106" y="1372" width="706" height="248" fill="#ededed"/>
<!-- strips -->
<path d="M1106,1520 Q1130,1500 1150,1500" stroke="#c8c8c8" stroke-width="30" fill="none"/>
<rect x="1255" y="1492" width="80" height="49" fill="#f0b020"/>
<polygon points="1106,1449 1269,1449 1269,1545 1240,1556 1106,1556" fill="#a49d94"/>
<polygon points="1165,1449 1255,1449 1270,1505 1250,1518 1175,1515" fill="#141414"/>
<rect x="1500" y="1492" width="75" height="45" fill="#d0d0d0"/>
<polygon points="1342,1454 1517,1454 1517,1545 1490,1556 1342,1556" fill="#a49d94"/>
<polygon points="1416,1460 1500,1462 1517,1500 1500,1514 1425,1510" fill="#141414"/>
<rect x="1745" y="1493" width="67" height="42" fill="#d0d0d0"/>
<polygon points="1578,1452 1746,1452 1746,1548 1720,1558 1578,1558" fill="#a49d94"/>
<polygon points="1642,1474 1730,1474 1748,1510 1735,1529 1650,1525" fill="#141414"/>
<g fill="#f5c800"><rect x="1247" y="1449" width="6" height="32"/><polygon points="1240,1478 1260,1478 1250,1498"/>
<rect x="1488" y="1458" width="6" height="32"/><polygon points="1481,1488 1501,1488 1491,1508"/>
<rect x="1726" y="1478" width="6" height="30"/><polygon points="1719,1505 1739,1505 1729,1525"/></g>
<g class="t2"><line x1="1146" y1="1604" x2="1324" y2="1604"/><line x1="1324" y1="1467" x2="1324" y2="1604"/>
<line x1="1377" y1="1604" x2="1560" y2="1604"/><line x1="1560" y1="1467" x2="1560" y2="1604"/>
<line x1="1621" y1="1604" x2="1793" y2="1604"/><line x1="1793" y1="1467" x2="1793" y2="1604"/></g>

<!-- ===== Table ===== -->
<rect x="1812" y="1124" width="653" height="495" fill="#fff"/>
<g>
<rect x="2003" y="1305" width="59" height="39" fill="#f6ea10"/>
<rect x="1812" y="1344" width="94" height="39" fill="#3fa346"/><rect x="1906" y="1344" width="97" height="39" fill="#ef8a34"/><rect x="2003" y="1344" width="59" height="39" fill="#ef8a34"/>
<rect x="1812" y="1422" width="94" height="40" fill="#19a3e3"/><rect x="1906" y="1422" width="97" height="40" fill="#19a3e3"/>
<rect x="1812" y="1501" width="94" height="39" fill="#ef8a34"/><rect x="1906" y="1501" width="97" height="39" fill="#3fa346"/><rect x="2003" y="1501" width="59" height="39" fill="#19a3e3"/>
<rect x="1812" y="1580" width="94" height="39" fill="#6b3512"/><rect x="1906" y="1580" width="97" height="39" fill="#6b3512"/>
</g>
<g stroke="#1a1a1a" stroke-width="4">
<line x1="1812" y1="1124" x2="2465" y2="1124"/><line x1="1812" y1="1170" x2="2465" y2="1170"/><line x1="1812" y1="1305" x2="2465" y2="1305"/>
<line x1="1812" y1="1344" x2="2465" y2="1344"/><line x1="1812" y1="1383" x2="2465" y2="1383"/><line x1="1812" y1="1422" x2="2465" y2="1422"/>
<line x1="1812" y1="1462" x2="2465" y2="1462"/><line x1="1812" y1="1501" x2="2465" y2="1501"/><line x1="1812" y1="1540" x2="2465" y2="1540"/>
<line x1="1812" y1="1580" x2="2465" y2="1580"/><line x1="1812" y1="1619" x2="2465" y2="1619"/>
<line x1="1812" y1="1122" x2="1812" y2="1621"/><line x1="2465" y1="1122" x2="2465" y2="1621"/><line x1="2120" y1="1124" x2="2120" y2="1619"/>
<line x1="2003" y1="1170" x2="2003" y2="1619"/><line x1="2062" y1="1170" x2="2062" y2="1619"/><line x1="2192" y1="1170" x2="2192" y2="1619"/>
<line x1="2298" y1="1170" x2="2298" y2="1619"/><line x1="2394" y1="1170" x2="2394" y2="1619"/><line x1="1906" y1="1268" x2="1906" y2="1619"/>
</g>
<text x="1966" y="1156" class="b c" style="font-size:25px" textLength="131" lengthAdjust="spacingAndGlyphs">Connection</text>
<text x="2293" y="1156" class="b c" style="font-size:25px" textLength="132" lengthAdjust="spacingAndGlyphs">Application</text>
<text x="1908" y="1216" class="c" style="font-size:24px" textLength="128" lengthAdjust="spacingAndGlyphs">Colour code</text>
<text x="1908" y="1243" class="b c" style="font-size:24px" textLength="55" lengthAdjust="spacingAndGlyphs">T568</text>
<text x="1860" y="1294" class="b c" style="font-size:24px">A</text>
<text x="1955" y="1294" class="b c" style="font-size:24px">B</text>
<g style="font-size:22px">
<text transform="translate(2041,1238) rotate(-90)" class="c" style="font-size:22px" textLength="98" lengthAdjust="spacingAndGlyphs">PROFINET</text>
<text transform="translate(2090,1240) rotate(-90)" class="c" style="font-size:22px" textLength="42" lengthAdjust="spacingAndGlyphs">RJ45</text>
<text transform="translate(2112,1238) rotate(-90)" class="c" style="font-size:22px" textLength="73" lengthAdjust="spacingAndGlyphs">PIN No.</text>
<text transform="translate(2155,1238) rotate(-90)" class="c" style="font-size:22px" textLength="59" lengthAdjust="spacingAndGlyphs">10BT/</text>
<text transform="translate(2179,1239) rotate(-90)" class="c" style="font-size:22px" textLength="62" lengthAdjust="spacingAndGlyphs">100BT</text>
<text transform="translate(2230,1237) rotate(-90)" class="c" style="font-size:22px" textLength="118" lengthAdjust="spacingAndGlyphs">1 Gigabit/</text>
<text transform="translate(2255,1237) rotate(-90)" class="c" style="font-size:22px" textLength="118" lengthAdjust="spacingAndGlyphs">10 Gigabits</text>
<text transform="translate(2279,1238) rotate(-90)" class="c" style="font-size:22px" textLength="87" lengthAdjust="spacingAndGlyphs">Ethernet</text>
<text transform="translate(2345,1238) rotate(-90)" class="c" style="font-size:22px" textLength="115" lengthAdjust="spacingAndGlyphs">Token Ring</text>
<text transform="translate(2369,1237) rotate(-90)" class="c" style="font-size:22px" textLength="85" lengthAdjust="spacingAndGlyphs">ISDN/So</text>
<text transform="translate(2439,1237) rotate(-90)" class="c" style="font-size:22px" textLength="35" lengthAdjust="spacingAndGlyphs">TEL</text>
</g>
<g style="font-size:23px">
<text x="1859" y="1333" class="c" style="font-size:23px">B - V</text><text x="1954" y="1333" class="c" style="font-size:23px">B - O</text><text x="2032" y="1333" class="c" style="font-size:23px">YE</text><text x="2091" y="1333" class="c" style="font-size:23px">1</text>
<text x="1859" y="1372" class="c" style="font-size:23px">V</text><text x="1954" y="1372" class="c" style="font-size:23px">O</text><text x="2032" y="1372" class="c" style="font-size:23px">OG</text><text x="2091" y="1372" class="c" style="font-size:23px">2</text>
<text x="1859" y="1411" class="c" style="font-size:23px">B- O</text><text x="1954" y="1411" class="c" style="font-size:23px">B - G</text><text x="2032" y="1411" class="c" style="font-size:23px">WH</text><text x="2091" y="1411" class="c" style="font-size:23px">3</text>
<text x="1859" y="1450" class="c" style="font-size:23px;fill:#12407a">BL</text><text x="1954" y="1450" class="c" style="font-size:23px;fill:#12407a">BL</text><text x="2032" y="1450" class="c" style="font-size:23px">-</text><text x="2091" y="1450" class="c" style="font-size:23px">4</text>
<text x="1859" y="1490" class="c" style="font-size:23px">B - BL</text><text x="1954" y="1490" class="c" style="font-size:23px">B - BL</text><text x="2032" y="1490" class="c" style="font-size:23px">-</text><text x="2091" y="1490" class="c" style="font-size:23px">5</text>
<text x="1859" y="1529" class="c" style="font-size:23px">O</text><text x="1954" y="1529" class="c" style="font-size:23px">V</text><text x="2032" y="1529" class="c" style="font-size:23px;fill:#12407a">BU</text><text x="2091" y="1529" class="c" style="font-size:23px">6</text>
<text x="1859" y="1568" class="c" style="font-size:23px">BL- BR</text><text x="1954" y="1568" class="c" style="font-size:23px">BL - BR</text><text x="2032" y="1568" class="c" style="font-size:23px">-</text><text x="2091" y="1568" class="c" style="font-size:23px">7</text>
<text x="1859" y="1608" class="c" style="font-size:23px;fill:#f2e8dc">BR</text><text x="1954" y="1608" class="c" style="font-size:23px;fill:#f2e8dc">BR</text><text x="2032" y="1608" class="c" style="font-size:23px">-</text><text x="2091" y="1608" class="c" style="font-size:23px">8</text>
</g>
<g fill="#111">
<circle cx="2157" cy="1325" r="5.5"/><circle cx="2245" cy="1325" r="5.5"/>
<circle cx="2157" cy="1364" r="5.5"/><circle cx="2245" cy="1364" r="5.5"/>
<circle cx="2157" cy="1403" r="5.5"/><circle cx="2245" cy="1403" r="5.5"/><circle cx="2346" cy="1403" r="5.5"/>
<circle cx="2245" cy="1442" r="5.5"/><circle cx="2346" cy="1442" r="5.5"/><circle cx="2430" cy="1442" r="5.5"/>
<circle cx="2245" cy="1481" r="5.5"/><circle cx="2346" cy="1481" r="5.5"/><circle cx="2430" cy="1481" r="5.5"/>
<circle cx="2157" cy="1520" r="5.5"/><circle cx="2245" cy="1520" r="5.5"/><circle cx="2346" cy="1520" r="5.5"/>
<circle cx="2245" cy="1560" r="5.5"/>
<circle cx="2245" cy="1599" r="5.5"/>
</g>

<!-- ===== Frame lines ===== -->
<g class="ln" fill="none">
<rect x="157" y="158" width="2308" height="1463"/>
<line x1="157" y1="658" x2="2465" y2="658"/><line x1="157" y1="1122" x2="2465" y2="1122"/>
<line x1="1283" y1="158" x2="1283" y2="658"/><line x1="1874" y1="158" x2="1874" y2="658"/>
<line x1="541" y1="230" x2="541" y2="658"/><line x1="843" y1="230" x2="843" y2="658"/>
<line x1="1341" y1="658" x2="1341" y2="1122"/><line x1="1935" y1="658" x2="1935" y2="1122"/>
<line x1="749" y1="742" x2="749" y2="837"/><line x1="749" y1="896" x2="749" y2="1122"/>
<line x1="549" y1="1122" x2="549" y2="1621"/><line x1="1105" y1="1122" x2="1105" y2="1621"/><line x1="1812" y1="1122" x2="1812" y2="1621"/>
<line x1="157" y1="1396" x2="549" y2="1396"/><line x1="1105" y1="1371" x2="1812" y2="1371"/>
</g>
<!-- number boxes -->
<rect x="157" y="158" width="46" height="48" class="nb"/><text x="180" y="196" class="num">1</text>
<rect x="1283" y="158" width="46" height="48" class="nb"/><text x="1306" y="196" class="num">2</text>
<rect x="157" y="658" width="46" height="46" class="nb"/><text x="180" y="694" class="num">3</text>
<rect x="1341" y="658" width="46" height="46" class="nb"/><text x="1364" y="694" class="num">4</text>
<rect x="1935" y="658" width="46" height="46" class="nb"/><text x="1958" y="694" class="num">5</text>
<rect x="157" y="1122" width="46" height="47" class="nb"/><text x="180" y="1159" class="num">6</text>
<rect x="157" y="1396" width="46" height="46" class="nb"/><text x="180" y="1432" class="num">7</text>
<rect x="549" y="1122" width="46" height="47" class="nb"/><text x="572" y="1159" class="num">8</text>
<rect x="1105" y="1122" width="46" height="47" class="nb"/><text x="1128" y="1159" class="num">9</text>

<!-- ===== Labels ===== -->
<text x="619" y="190" textLength="201" lengthAdjust="spacingAndGlyphs">Stripping length</text>
<text x="366" y="228" textLength="129" lengthAdjust="spacingAndGlyphs">min. 50 mm</text>
<text x="662" y="232" textLength="131" lengthAdjust="spacingAndGlyphs">min. 50 mm</text>
<text x="1066" y="214" textLength="130" lengthAdjust="spacingAndGlyphs">min. 50 mm</text>
<text x="182" y="262" class="b" textLength="73" lengthAdjust="spacingAndGlyphs">S/FTP</text>
<text x="552" y="263" class="b" textLength="78" lengthAdjust="spacingAndGlyphs">U/FTP</text>
<text x="858" y="250" class="b" textLength="96" lengthAdjust="spacingAndGlyphs">SF/UTP</text>
<text x="852" y="331" textLength="348" lengthAdjust="spacingAndGlyphs">score and remove the foil screen</text>
<text x="572" y="428" textLength="211" lengthAdjust="spacingAndGlyphs">Drain wire wrapped</text>
<text x="663" y="539" textLength="75" lengthAdjust="spacingAndGlyphs">10 mm</text>
<text x="191" y="567" textLength="321" lengthAdjust="spacingAndGlyphs">fold braided shield backwards</text>
<text x="871" y="491" textLength="238" lengthAdjust="spacingAndGlyphs">cut off cross separator</text>

<text x="1341" y="203" class="b" style="font-size:25px" textLength="86" lengthAdjust="spacingAndGlyphs">T568A</text>
<text x="1449" y="194" textLength="130" lengthAdjust="spacingAndGlyphs">presort pairs</text>
<text x="1307" y="241" textLength="127" lengthAdjust="spacingAndGlyphs">Cable end 1</text>
<text x="1360" y="374" textLength="66" lengthAdjust="spacingAndGlyphs">5 mm</text>
<text x="1307" y="447" textLength="359" lengthAdjust="spacingAndGlyphs">remove pair screen to max. 5 mm</text>
<text x="1307" y="639" textLength="127" lengthAdjust="spacingAndGlyphs">Cable end 2</text>
<text x="1963" y="192" class="b" style="font-size:25px" textLength="83" lengthAdjust="spacingAndGlyphs">T568B</text>
<text x="2099" y="189" textLength="129" lengthAdjust="spacingAndGlyphs">presort pairs</text>
<text x="1898" y="241" textLength="129" lengthAdjust="spacingAndGlyphs">Cable end 1</text>
<text x="1951" y="374" textLength="62" lengthAdjust="spacingAndGlyphs">5 mm</text>
<text x="1898" y="447" textLength="361" lengthAdjust="spacingAndGlyphs">remove pair screen to max. 5 mm</text>
<text x="1898" y="639" textLength="129" lengthAdjust="spacingAndGlyphs">Cable end 2</text>

<text x="506" y="688" textLength="497" lengthAdjust="spacingAndGlyphs">untwist and insert pairs into the wire manager</text>
<text x="228" y="727" class="b" style="font-size:26px" textLength="73" lengthAdjust="spacingAndGlyphs">S/FTP</text>
<text x="312" y="727" style="font-size:26px" textLength="44" lengthAdjust="spacingAndGlyphs">and</text>
<text x="368" y="727" class="b" style="font-size:26px" textLength="78" lengthAdjust="spacingAndGlyphs">U/FTP</text>
<text x="783" y="727" class="b" style="font-size:26px" textLength="97" lengthAdjust="spacingAndGlyphs">SF/UTP</text>
<text x="413" y="872" textLength="680" lengthAdjust="spacingAndGlyphs">smooth wires accurately before inserting into the wire manager</text>

<text x="1383" y="1057" textLength="323" lengthAdjust="spacingAndGlyphs">Parallel Pliers-Wrench, smooth</text>
<text x="1383" y="1082" textLength="287" lengthAdjust="spacingAndGlyphs">surface to prevent damage</text>
<text x="1986" y="1057" textLength="366" lengthAdjust="spacingAndGlyphs">cut all 8 wires using cutting pliers,</text>
<text x="1986" y="1082" textLength="326" lengthAdjust="spacingAndGlyphs">wires protruding max. 0,5 mm</text>

<text x="249" y="1152" textLength="219" lengthAdjust="spacingAndGlyphs">remove assembly aid</text>
<text x="220" y="1571" textLength="114" lengthAdjust="spacingAndGlyphs">ca. 18 mm</text>
<text x="688" y="1152" textLength="402" lengthAdjust="spacingAndGlyphs">Wire manager can be brought to end</text>
<text x="726" y="1177" textLength="364" lengthAdjust="spacingAndGlyphs">position by means of screen cover</text>
<text x="566" y="1206" class="b" style="font-size:26px" textLength="86" lengthAdjust="spacingAndGlyphs">T568A</text>
<text x="566" y="1429" class="b" style="font-size:26px" textLength="84" lengthAdjust="spacingAndGlyphs">T568B</text>
<text x="561" y="1607" textLength="253" lengthAdjust="spacingAndGlyphs">insert the wire manager</text>

<text x="1572" y="1248" textLength="207" lengthAdjust="spacingAndGlyphs">press housing parts</text>
<text x="1609" y="1272" textLength="132" lengthAdjust="spacingAndGlyphs">until snap-in</text>
<text x="1286" y="1399" textLength="360" lengthAdjust="spacingAndGlyphs">cable relief is fixable in three-step</text>
<text x="1207" y="1427" textLength="76" lengthAdjust="spacingAndGlyphs">1x click</text>
<text x="1456" y="1436" textLength="75" lengthAdjust="spacingAndGlyphs">2x click</text>
<text x="1694" y="1450" textLength="76" lengthAdjust="spacingAndGlyphs">3x click</text>
<text x="1142" y="1594" textLength="167" lengthAdjust="spacingAndGlyphs">&gt; Ø7,5-9,0 mm</text>
<text x="1375" y="1594" textLength="169" lengthAdjust="spacingAndGlyphs">&gt; Ø6,0-7,5 mm</text>
<text x="1627" y="1594" textLength="143" lengthAdjust="spacingAndGlyphs">Ø5,0-6,0 mm</text>

<!-- footer -->
<text x="97" y="1652" style="font-size:22px" textLength="2400" lengthAdjust="spacingAndGlyphs">Une version française du guide d’installation est disponible sur notre site web de BELDEN dans la section „Information Center“ www.belden.com . Pour plus d’informations techniques, composez le 1-800-BELDEN. Copyright 2011, Belden Inc.</text>
<rect x="0" y="1646" width="2560" height="35" fill="#858585"/>
<text x="36" y="1639" class="b" style="font-size:34px;fill:#1e4fa6" textLength="229" lengthAdjust="spacingAndGlyphs">Pressauto.NET</text>
<!-- outer teal border -->
<rect x="1" y="1" width="2558" height="1679" fill="none" stroke="#3a8ea5" stroke-width="2"/>
</svg>
</body></html>
